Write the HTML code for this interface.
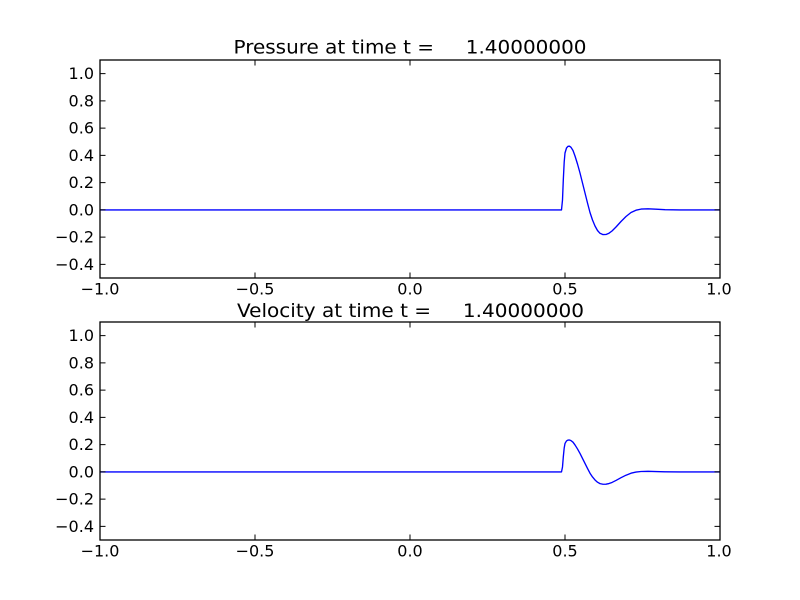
<!DOCTYPE html>
<html>
<head>
<meta charset="utf-8">
<style>
html,body{margin:0;padding:0;background:#fff;}
svg{display:block;}
text{font-family:"DejaVu Sans","Liberation Sans",sans-serif;fill:#000;}
</style>
</head>
<body>
<svg width="800" height="600" viewBox="0 0 800 600" xmlns="http://www.w3.org/2000/svg">
<rect x="0" y="0" width="800" height="600" fill="#fff"/>

<!-- ===== TOP AXES ===== -->
<text x="410" y="53.5" font-size="19" text-anchor="middle" textLength="353" lengthAdjust="spacingAndGlyphs" xml:space="preserve">Pressure at time t =     1.40000000</text>

<path d="M100,209.9 L561.5,209.9 L562.5,200 L563.3,180 L564.2,162 L565,153 L566.5,148 L568,146.3 L569.5,146.2 L571,147.3 L573,150.5 L575,156 L577.5,164 L580,173 L582.5,183 L585,193 L587.5,203 L590,212.5 L592.5,220 L595,226 L597.5,230.5 L600,233.3 L603,234.6 L606,234.5 L609,233.2 L612,231 L616,227 L621,221.5 L626,216.5 L631,212.5 L636,210.2 L641,209.1 L648,208.8 L656,209.2 L665,209.7 L680,209.9 L720,209.9" fill="none" stroke="#0000ff" stroke-width="1.35" stroke-linejoin="round"/>

<g stroke="#000" stroke-width="1">
  <path d="M100,73.65h5.5M100,100.9h5.5M100,128.15h5.5M100,155.4h5.5M100,182.65h5.5M100,209.9h5.5M100,237.15h5.5M100,264.4h5.5"/>
  <path d="M720,73.65h-5.5M720,100.9h-5.5M720,128.15h-5.5M720,155.4h-5.5M720,182.65h-5.5M720,209.9h-5.5M720,237.15h-5.5M720,264.4h-5.5"/>
  <path d="M255,278v-5.5M410,278v-5.5M565,278v-5.5M255,60v5.5M410,60v5.5M565,60v5.5"/>
</g>
<rect x="100" y="60" width="620" height="218" fill="none" stroke="#000" stroke-width="1.3"/>

<g font-size="16" text-anchor="end">
  <text x="94" y="79.1">1.0</text>
  <text x="94" y="106.4">0.8</text>
  <text x="94" y="133.6">0.6</text>
  <text x="94" y="160.9">0.4</text>
  <text x="94" y="188.1">0.2</text>
  <text x="94" y="215.4">0.0</text>
  <text x="94" y="242.6">−0.2</text>
  <text x="94" y="269.9">−0.4</text>
</g>
<g font-size="16" text-anchor="middle">
  <text x="100" y="294.5">−1.0</text>
  <text x="255" y="294.5">−0.5</text>
  <text x="410" y="294.5">0.0</text>
  <text x="565" y="294.5">0.5</text>
  <text x="719" y="294.5">1.0</text>
</g>

<!-- ===== BOTTOM AXES ===== -->
<text x="410.5" y="317" font-size="19" text-anchor="middle" textLength="347" lengthAdjust="spacingAndGlyphs" xml:space="preserve">Velocity at time t =     1.40000000</text>

<path d="M100,471.9 L561.5,471.9 L562.5,466.95 L563.3,456.95 L564.2,447.95 L565,443.45 L566.5,440.95 L568,440.1 L569.5,440.05 L571,440.6 L573,442.2 L575,444.95 L577.5,448.95 L580,453.45 L582.5,458.45 L585,463.45 L587.5,468.45 L590,473.2 L592.5,476.95 L595,479.95 L597.5,482.2 L600,483.6 L603,484.25 L606,484.2 L609,483.55 L612,482.45 L616,480.45 L621,477.7 L626,475.2 L631,473.2 L636,472.05 L641,471.5 L648,471.35 L656,471.55 L665,471.8 L680,471.9 L720,471.9" fill="none" stroke="#0000ff" stroke-width="1.35" stroke-linejoin="round"/>

<g stroke="#000" stroke-width="1">
  <path d="M100,335.65h5.5M100,362.9h5.5M100,390.15h5.5M100,417.4h5.5M100,444.65h5.5M100,471.9h5.5M100,499.15h5.5M100,526.4h5.5"/>
  <path d="M720,335.65h-5.5M720,362.9h-5.5M720,390.15h-5.5M720,417.4h-5.5M720,444.65h-5.5M720,471.9h-5.5M720,499.15h-5.5M720,526.4h-5.5"/>
  <path d="M255,540v-5.5M410,540v-5.5M565,540v-5.5M255,322v5.5M410,322v5.5M565,322v5.5"/>
</g>
<rect x="100" y="322" width="620" height="218" fill="none" stroke="#000" stroke-width="1.3"/>

<g font-size="16" text-anchor="end">
  <text x="94" y="341.1">1.0</text>
  <text x="94" y="368.4">0.8</text>
  <text x="94" y="395.6">0.6</text>
  <text x="94" y="422.9">0.4</text>
  <text x="94" y="450.1">0.2</text>
  <text x="94" y="477.4">0.0</text>
  <text x="94" y="504.6">−0.2</text>
  <text x="94" y="531.9">−0.4</text>
</g>
<g font-size="16" text-anchor="middle">
  <text x="100" y="556.5">−1.0</text>
  <text x="255" y="556.5">−0.5</text>
  <text x="410" y="556.5">0.0</text>
  <text x="565" y="556.5">0.5</text>
  <text x="719" y="556.5">1.0</text>
</g>
</svg>
</body>
</html>
